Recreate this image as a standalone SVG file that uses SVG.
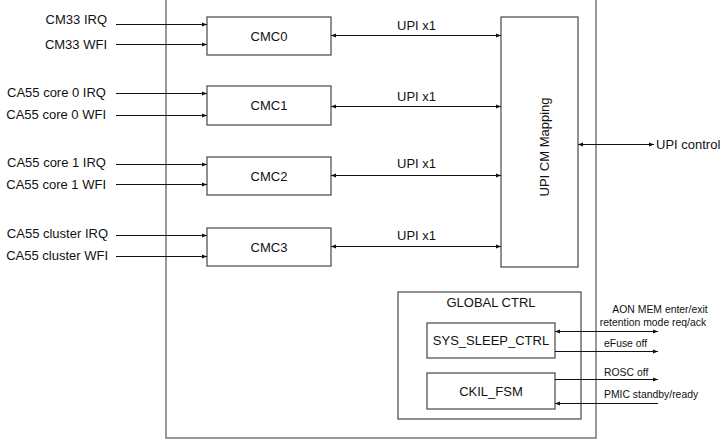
<svg xmlns="http://www.w3.org/2000/svg" width="724" height="447" viewBox="0 0 724 447">
<style>
text{font-family:"Liberation Sans",Arial,sans-serif;fill:#111}
.t{font-size:13px}
.s{font-size:10.4px}
.c{text-anchor:middle}
.r{text-anchor:end}
.box{fill:#fff;stroke:#555;stroke-width:1.3}
.ln{stroke:#111;stroke-width:1;fill:none}
</style>
<defs>
<marker id="ah" viewBox="0 0 10 10" refX="10" refY="5" markerWidth="5" markerHeight="5" orient="auto-start-reverse" markerUnits="userSpaceOnUse">
<path d="M0,1 L10,5 L0,9 z" fill="#111"/>
</marker>
</defs>
<rect x="0" y="0" width="724" height="447" fill="#fff"/>
<g id="outer"><rect x="166" y="-10" width="430" height="448" fill="none" stroke="#777" stroke-width="1.5"/></g>
<g id="cmc0"><rect class="box" x="207" y="17" width="124" height="38"/><text class="t c" x="269" y="41">CMC0</text></g>
<g id="cmc1"><rect class="box" x="207" y="86" width="124" height="39"/><text class="t c" x="269" y="110">CMC1</text></g>
<g id="cmc2"><rect class="box" x="207" y="157" width="124" height="38"/><text class="t c" x="269" y="181">CMC2</text></g>
<g id="cmc3"><rect class="box" x="207" y="228" width="124" height="38"/><text class="t c" x="269" y="252">CMC3</text></g>
<g id="upimap"><rect class="box" x="501" y="17" width="77" height="250"/><text class="t c" transform="translate(549,147) rotate(-90)">UPI CM Mapping</text></g>
<g id="global"><rect class="box" x="398" y="292" width="183" height="127"/><text class="t c" x="491" y="307">GLOBAL CTRL</text></g>
<g id="sysSleep"><rect class="box" x="427" y="323" width="128" height="35"/><text class="t c" x="491" y="345">SYS_SLEEP_CTRL</text></g>
<g id="ckil"><rect class="box" x="427" y="373" width="128" height="36"/><text class="t c" x="491" y="396">CKIL_FSM</text></g>
<g id="labels">
<text class="t r" x="107" y="24">CM33 IRQ</text>
<text class="t r" x="107" y="49">CM33 WFI</text>
<text class="t r" x="106" y="97">CA55 core 0 IRQ</text>
<text class="t r" x="106" y="119">CA55 core 0 WFI</text>
<text class="t r" x="106" y="167">CA55 core 1 IRQ</text>
<text class="t r" x="106" y="189">CA55 core 1 WFI</text>
<text class="t r" x="108" y="238">CA55 cluster IRQ</text>
<text class="t r" x="108" y="260">CA55 cluster WFI</text>
<text class="t" x="397" y="30">UPI x1</text>
<text class="t" x="397" y="101">UPI x1</text>
<text class="t" x="397" y="168">UPI x1</text>
<text class="t" x="397" y="240">UPI x1</text>
<text class="t" x="656" y="149">UPI control</text>
<text class="s c" x="660" y="313">AON MEM enter/exit</text>
<text class="s c" x="653" y="326">retention mode req/ack</text>
<text class="s" x="604" y="347">eFuse off</text>
<text class="s" x="604" y="376">ROSC off</text>
<text class="s" x="604" y="398">PMIC standby/ready</text>
</g>
<g id="connectors">
<line class="ln" x1="116" y1="24.5" x2="207" y2="24.5" marker-end="url(#ah)"/>
<line class="ln" x1="116" y1="44.5" x2="207" y2="44.5" marker-end="url(#ah)"/>
<line class="ln" x1="116" y1="93.5" x2="207" y2="93.5" marker-end="url(#ah)"/>
<line class="ln" x1="116" y1="115.5" x2="207" y2="115.5" marker-end="url(#ah)"/>
<line class="ln" x1="116" y1="164.5" x2="207" y2="164.5" marker-end="url(#ah)"/>
<line class="ln" x1="116" y1="184.5" x2="207" y2="184.5" marker-end="url(#ah)"/>
<line class="ln" x1="116" y1="235.5" x2="207" y2="235.5" marker-end="url(#ah)"/>
<line class="ln" x1="116" y1="256.5" x2="207" y2="256.5" marker-end="url(#ah)"/>
<line class="ln" x1="331" y1="35.5" x2="501" y2="35.5" marker-start="url(#ah)" marker-end="url(#ah)"/>
<line class="ln" x1="331" y1="106.5" x2="501" y2="106.5" marker-start="url(#ah)" marker-end="url(#ah)"/>
<line class="ln" x1="331" y1="175.5" x2="501" y2="175.5" marker-start="url(#ah)" marker-end="url(#ah)"/>
<line class="ln" x1="331" y1="246.5" x2="501" y2="246.5" marker-start="url(#ah)" marker-end="url(#ah)"/>
<line class="ln" x1="578" y1="144.5" x2="654" y2="144.5" marker-start="url(#ah)" marker-end="url(#ah)"/>
<line class="ln" x1="555" y1="331.5" x2="658" y2="331.5" marker-start="url(#ah)" marker-end="url(#ah)"/>
<line class="ln" x1="555" y1="351.5" x2="658" y2="351.5" marker-end="url(#ah)"/>
<line class="ln" x1="555" y1="379.5" x2="658" y2="379.5" marker-end="url(#ah)"/>
<line class="ln" x1="658" y1="403.5" x2="555" y2="403.5" marker-end="url(#ah)"/>
</g>
</svg>
